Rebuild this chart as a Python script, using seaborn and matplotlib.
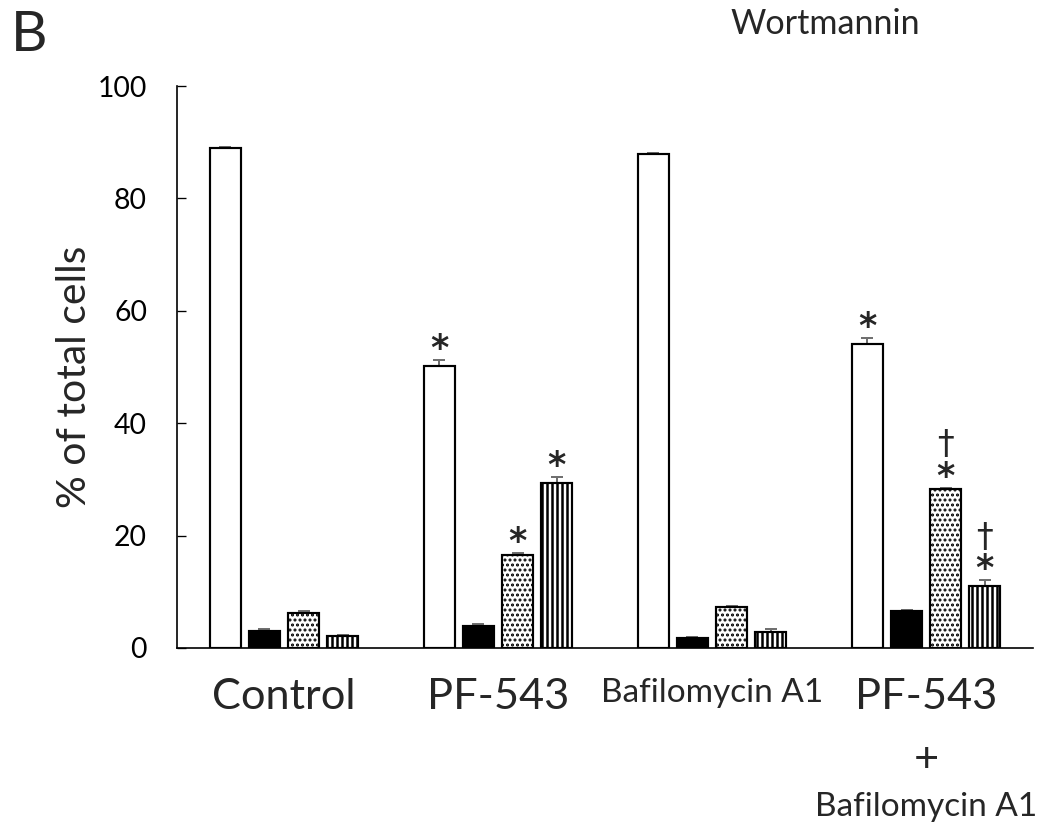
import matplotlib
matplotlib.use("Agg")
import matplotlib.pyplot as plt
import numpy as np
import pandas as pd
import seaborn as sns

# Treatment groups and the four cell categories
groups = ["Control", "PF-543", "Bafilomycin A1", "PF-543 + Bafilomycin A1"]
tick_labels = ["Control", "PF-543", "Bafilomycin A1", "PF-543"]
patterns = ["Open", "Solid", "Dotted", "Striped"]

# Mean percentage of total cells per category
open_vals = [88.9, 50.2, 87.9, 54.1]
solid_vals = [3.0, 3.9, 1.7, 6.5]
dotted_vals = [6.3, 16.5, 7.3, 28.3]
striped_vals = [2.1, 29.4, 2.9, 11.0]

# Standard errors (upper bars only)
open_err = [0.3, 1.0, 0.2, 1.1]
solid_err = [0.4, 0.4, 0.2, 0.2]
dotted_err = [0.3, 0.4, 0.2, 0.2]
striped_err = [0.2, 1.0, 0.4, 1.1]

# Significance: '*' vs control, '†' vs PF-543 alone
open_star = [0, 1, 0, 1]
solid_star = [0, 0, 0, 0]
dotted_star = [0, 1, 0, 1]
striped_star = [0, 1, 0, 1]
dotted_dagger = [0, 0, 0, 1]
striped_dagger = [0, 0, 0, 1]

values = {"Open": open_vals, "Solid": solid_vals, "Dotted": dotted_vals, "Striped": striped_vals}
errors = {"Open": open_err, "Solid": solid_err, "Dotted": dotted_err, "Striped": striped_err}
stars = {"Open": open_star, "Solid": solid_star, "Dotted": dotted_star, "Striped": striped_star}
daggers = {"Open": [0] * 4, "Solid": [0] * 4, "Dotted": dotted_dagger, "Striped": striped_dagger}

df = pd.DataFrame(
    [(g, p, values[p][i]) for p in patterns for i, g in enumerate(groups)],
    columns=["group", "pattern", "value"],
)

sns.set_theme(style="white")
plt.rcParams["font.family"] = ["Lato", "DejaVu Sans"]
plt.rcParams["hatch.linewidth"] = 1.0
plt.rcParams["hatch.color"] = "black"

DPI = 120
fig = plt.figure(figsize=(1040 / DPI, 828 / DPI), dpi=DPI)
ax = fig.add_axes([0.1702, 0.2174, 0.8231, 0.6787])

palette = {"Open": "white", "Solid": "black", "Dotted": "white", "Striped": "white"}
hatches = {"Open": "", "Solid": "", "Dotted": "....", "Striped": "||||"}
hatch_lw = {"Open": 1.0, "Solid": 1.0, "Dotted": 1.2, "Striped": 1.5}

sns.barplot(
    data=df, x="group", y="value", hue="pattern",
    order=groups, hue_order=patterns, palette=palette,
    edgecolor="black", linewidth=1.3, width=0.73, gap=0.2,
    errorbar=None, legend=False, ax=ax, zorder=2,
)

mark_font = {"family": "DejaVu Sans"}
for container, pat in zip(ax.containers, patterns):
    xs, hs = [], []
    for bar in container:
        bar.set_hatch(hatches[pat])
        if hasattr(bar, "set_hatch_linewidth"):
            bar.set_hatch_linewidth(hatch_lw[pat])
        bar.set_edgecolor("black")
        xs.append(bar.get_x() + bar.get_width() / 2)
        hs.append(bar.get_height())
    err = np.array(errors[pat])
    ax.errorbar(xs, hs, yerr=[np.zeros_like(err), err], fmt="none",
                ecolor="#707070", elinewidth=1.2, capsize=3.4, capthick=1.2,
                zorder=1)
    for i, (x, h) in enumerate(zip(xs, hs)):
        top = h + err[i]
        if stars[pat][i]:
            ax.annotate("*", (x, top), xytext=(0, 0.5), textcoords="offset points",
                        ha="center", va="baseline", fontsize=21, fontweight="bold",
                        **mark_font)
        if daggers[pat][i]:
            ax.annotate("†", (x, top), xytext=(0, 20), textcoords="offset points",
                        ha="center", va="baseline", fontsize=20, **mark_font)

ax.set_ylim(0, 100)
ax.set_xlim(-0.5, 3.5)
ax.set_yticks([0, 20, 40, 60, 80, 100])
ax.set_xticks(range(len(groups)))
ax.set_xticklabels(tick_labels)
label_sizes = [26, 26, 20, 26]
for lbl, size in zip(ax.get_xticklabels(), label_sizes):
    lbl.set_fontsize(size)

ax.tick_params(axis="y", direction="in", length=5.4, width=0.8, pad=18,
               labelsize=17, colors="black", left=True)
ax.tick_params(axis="x", length=0, pad=18)
ax.set_xlabel("")
ax.set_ylabel("% of total cells", fontsize=24.5, labelpad=3)
ax.yaxis.label.set_y(0.482)

for side in ("top", "right"):
    ax.spines[side].set_visible(False)
for side in ("left", "bottom"):
    ax.spines[side].set_color("black")
    ax.spines[side].set_linewidth(1.0)

# second and third lines of the combined-treatment label
xt = ax.get_xaxis_transform()
ax.text(3, -0.2, "+", transform=xt, ha="center", va="center", fontsize=26)
ax.text(3, -0.283, "Bafilomycin A1", transform=xt, ha="center", va="center", fontsize=20)

fig.text(0.010, 0.957, "B", ha="left", va="center", fontsize=34)
fig.text(825 / 1040, 1 - 24 / 828, "Wortmannin", ha="center", va="center", fontsize=20.5)

fig.savefig("out.png", dpi=DPI, facecolor="white")
